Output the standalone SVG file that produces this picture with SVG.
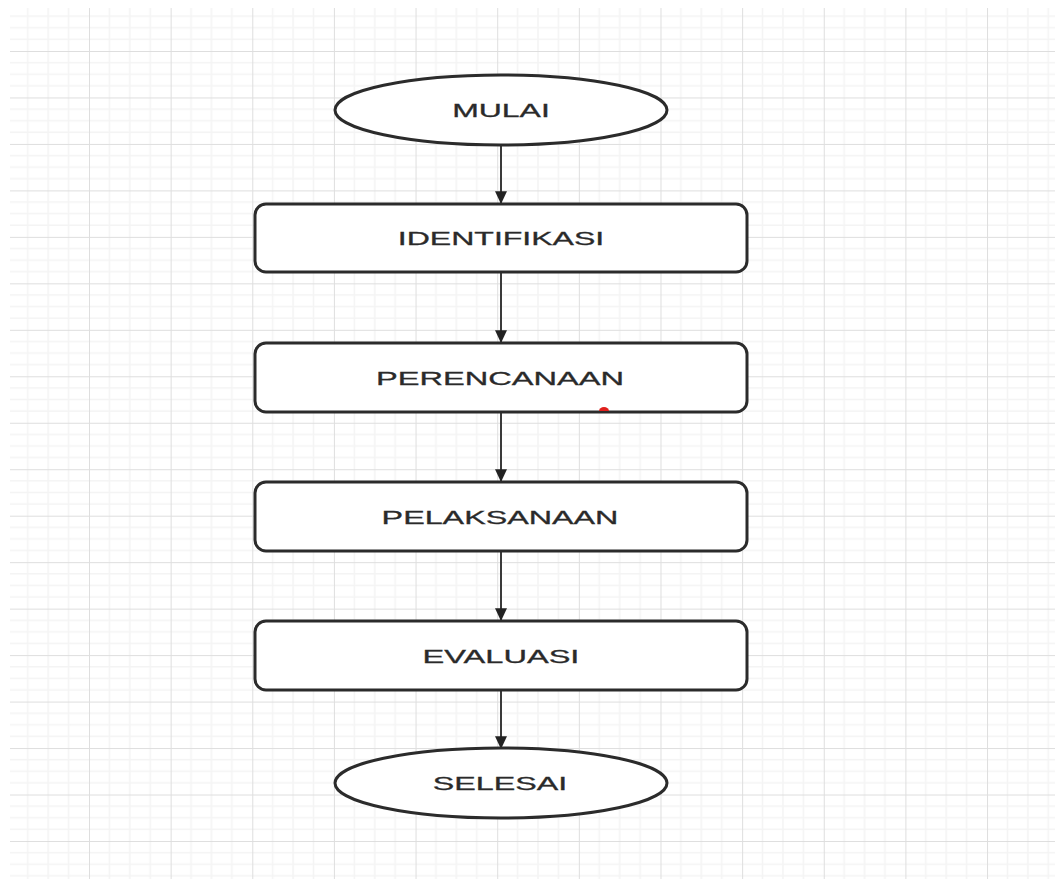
<svg xmlns="http://www.w3.org/2000/svg" width="1055" height="879" viewBox="0 0 1055 879">
  <defs>
    <pattern id="grid" patternUnits="userSpaceOnUse" x="89" y="51" width="81.64" height="46.47">
      <path d="M20.41 0V46.47M40.82 0V46.47M61.23 0V46.47M0 11.62H81.64M0 23.24H81.64M0 34.85H81.64" stroke="#f4f4f4" stroke-width="1.5" fill="none"/>
      <path d="M0 0V46.47M0 0H81.64" stroke="#dedede" stroke-width="2" fill="none"/>
    </pattern>
    <marker id="arrow" markerUnits="userSpaceOnUse" markerWidth="16" markerHeight="12" refX="15" refY="7" orient="auto" viewBox="0 0 16 14">
      <path d="M0 0L15 7L0 14Z" fill="#222"/>
    </marker>
    <style>
      .node { fill: #ffffff; stroke: #2b2b2b; stroke-width: 3; }
      .label { font-family: "Liberation Sans", Arial, sans-serif; font-size: 19px; fill: #2a2a2a; text-anchor: middle; stroke: #2a2a2a; stroke-width: 0.3; }
      .conn { stroke: #3a3a3a; stroke-width: 2; fill: none; marker-end: url(#arrow); }
    </style>
  </defs>
  <rect x="0" y="0" width="1055" height="879" fill="#ffffff"/>
  <rect x="10" y="8" width="1045" height="871" fill="url(#grid)"/>

  <g id="connectors">
    <line class="conn" x1="501" y1="145" x2="501" y2="204"/>
    <line class="conn" x1="501" y1="273" x2="501" y2="343"/>
    <line class="conn" x1="501" y1="413" x2="501" y2="482"/>
    <line class="conn" x1="501" y1="552" x2="501" y2="621"/>
    <line class="conn" x1="501" y1="691" x2="501" y2="749"/>
  </g>

  <g id="mulai">
    <ellipse class="node" cx="501" cy="110" rx="166" ry="35"/>
    <text class="label" transform="translate(501 117) scale(1.6 1)" x="0" y="0" textLength="61" lengthAdjust="spacingAndGlyphs">MULAI</text>
  </g>
  <g id="identifikasi">
    <rect class="node" x="255" y="204" width="492" height="68" rx="11" ry="11"/>
    <text class="label" transform="translate(501 245) scale(1.6 1)" x="0" y="0" textLength="129" lengthAdjust="spacingAndGlyphs">IDENTIFIKASI</text>
  </g>
  <g id="perencanaan">
    <rect class="node" x="255" y="343" width="492" height="69" rx="11" ry="11"/>
    <text class="label" transform="translate(500 384.5) scale(1.6 1)" x="0" y="0" textLength="155" lengthAdjust="spacingAndGlyphs">PERENCANAAN</text>
    <path d="M599 411a5 4 0 0 1 10 0Z" fill="#e0201c"/>
  </g>
  <g id="pelaksanaan">
    <rect class="node" x="255" y="482" width="492" height="69" rx="11" ry="11"/>
    <text class="label" transform="translate(500 523.5) scale(1.6 1)" x="0" y="0" textLength="148" lengthAdjust="spacingAndGlyphs">PELAKSANAAN</text>
  </g>
  <g id="evaluasi">
    <rect class="node" x="255" y="621" width="492" height="69" rx="11" ry="11"/>
    <text class="label" transform="translate(501 662.5) scale(1.6 1)" x="0" y="0" textLength="98" lengthAdjust="spacingAndGlyphs">EVALUASI</text>
  </g>
  <g id="selesai">
    <ellipse class="node" cx="501" cy="783" rx="166" ry="35"/>
    <text class="label" transform="translate(500 790) scale(1.6 1)" x="0" y="0" textLength="84" lengthAdjust="spacingAndGlyphs">SELESAI</text>
  </g>
</svg>
